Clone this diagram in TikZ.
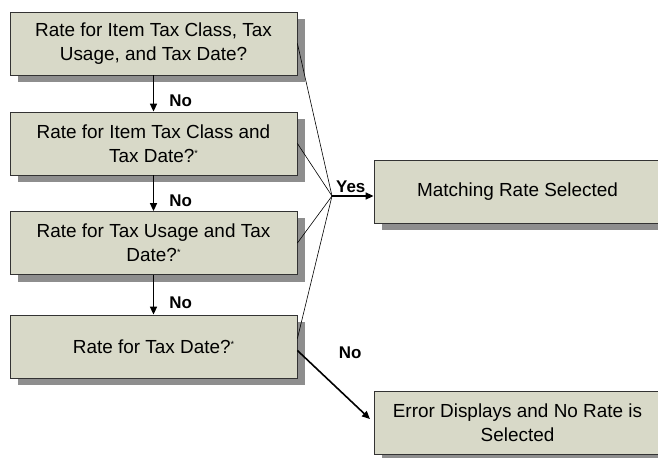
\documentclass[tikz,border=0pt]{standalone}
\usepackage{fontspec}
\setmainfont{Liberation Sans}
\usetikzlibrary{shadows,arrows.meta,positioning}
\definecolor{boxfill}{RGB}{216,217,200}
\definecolor{boxshadow}{RGB}{142,142,142}
\newcommand{\datemark}{\raisebox{6bp}{\fontsize{9}{9}\selectfont *}}
\tikzset{
  ratebox/.style={draw=black!80, line width=0.8bp, fill=boxfill,
    minimum width=287bp, minimum height=63bp, align=center,
    font=\fontsize{19}{24}\selectfont,
    drop shadow={shadow xshift=8bp, shadow yshift=-7bp, fill=boxshadow, opacity=1}},
  noarrow/.style={line width=1.6bp, -{Triangle[length=8bp,width=7bp]}},
  feed/.style={line width=0.6bp},
  answer/.style={font=\bfseries\fontsize{17}{20}\selectfont, inner sep=2bp}
}
\begin{document}
\begin{tikzpicture}
    \pgfsetxvec{\pgfpoint{1bp}{0}}
    \pgfsetyvec{\pgfpoint{0}{-1bp}}
    \useasboundingbox (0,0) rectangle (658,458);

    \foreach \n/\y/\t in {b1/43.5/{Rate for Item Tax Class, Tax\\Usage, and Tax Date?},
                          b2/143.5/{Rate for Item Tax Class and\\Tax Date?\datemark},
                          b3/243/{Rate for Tax Usage and Tax\\Date?\datemark},
                          b4/346.5/{Rate for Tax Date?\datemark}} {
      \node[ratebox] (\n) at (153.5,\y) {\t};
    }
    \node[ratebox] (match) at (517.5,192) {Matching Rate Selected};
    \node[ratebox] (error) at (517.5,422.5) {Error Displays and No Rate is\\Selected};
    \coordinate (join) at (332,196);

    \foreach \a/\b in {b1/b2,b2/b3,b3/b4} {
      \draw[noarrow] (\a) -- (\b) node[answer, pos=0.7, right=13bp] {No};
    }
    \foreach \n in {b1,b2,b3} {
      \draw[feed] (\n.east) -- (join);
    }
    \draw[feed] ([yshift=8bp]b4.east) -- (join);
    \draw[noarrow] (join) -- (join -| match.west) node[answer, midway, above, xshift=-2bp, yshift=1bp] {Yes};
    \draw[noarrow, shorten >=5bp] ([yshift=-4bp]b4.east) -- (error.west)
      node[answer, pos=0.35, xshift=26bp, yshift=23bp] {No};
  \end{tikzpicture}
\end{document}
